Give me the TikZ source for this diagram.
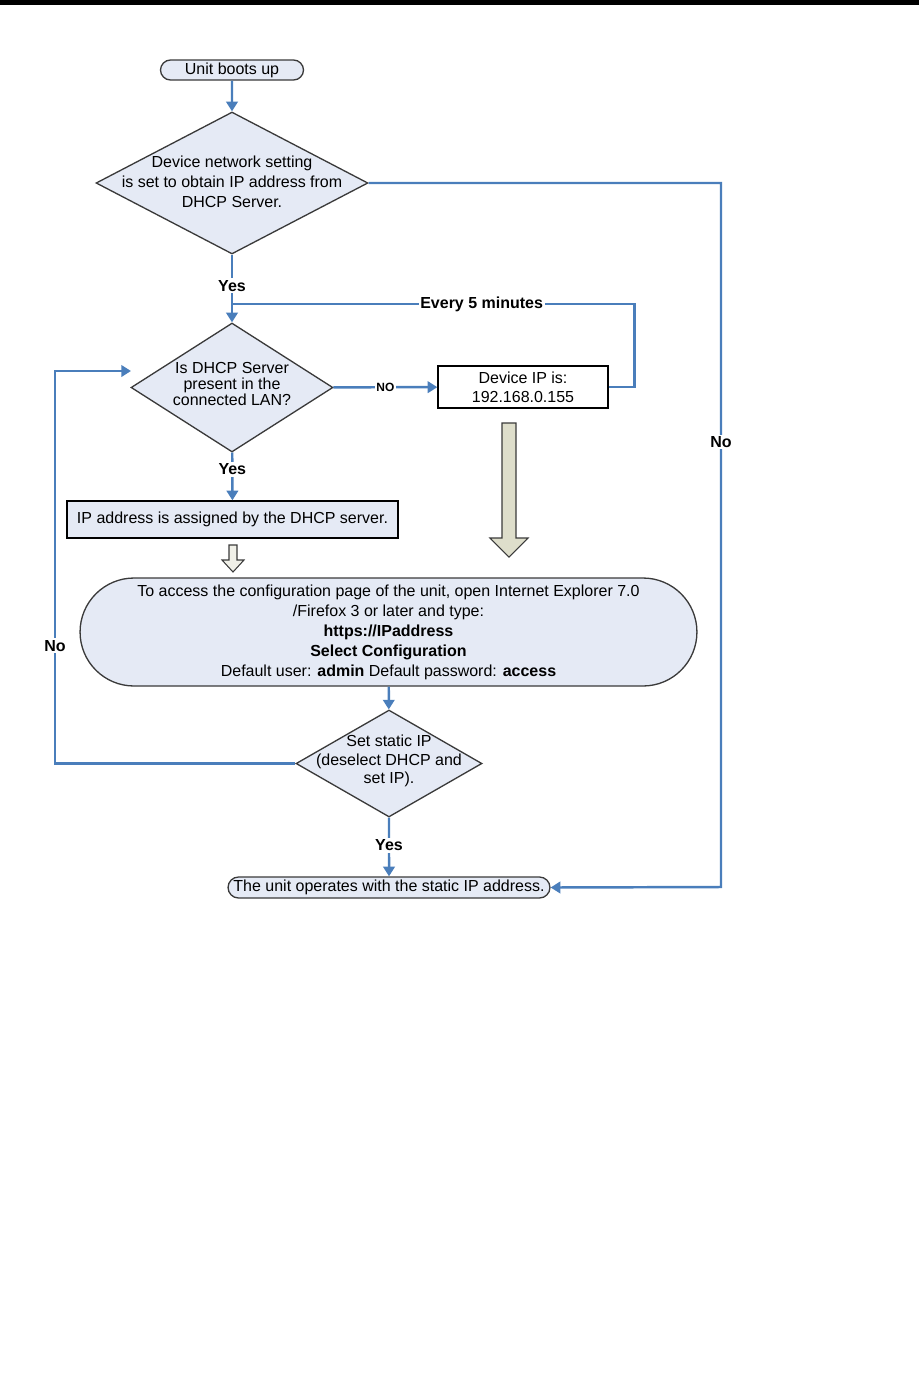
\documentclass[tikz,border=0pt]{standalone}
\usepackage{fontspec}
\setmainfont{Liberation Sans}
\usetikzlibrary{shapes.geometric,shapes.misc,arrows.meta}

\definecolor{FlowBlue}{HTML}{4A7EBB}
\definecolor{FlowFill}{HTML}{E5EAF5}
\definecolor{BlockFill}{HTML}{DEDECB}
\definecolor{EdgeGray}{HTML}{3A3A3A}

\begin{document}
\begin{tikzpicture}[
    x=0.02cm,
    y=-0.02cm,
    font=\fontsize{9.1}{11.4}\selectfont,
    terminal/.style={rounded rectangle, draw=EdgeGray, fill=FlowFill,
                     line width=0.75pt, inner sep=0pt, align=center},
    decision/.style={diamond, draw=EdgeGray, fill=FlowFill,
                     line width=0.75pt, inner sep=0pt},
    process/.style={rectangle, draw=black, line width=0.75pt,
                    inner sep=0pt, align=center},
    flow/.style={draw=FlowBlue, line width=1.4pt,
                 -{Triangle[length=5.5pt, width=6.5pt]}},
    flowline/.style={draw=FlowBlue, line width=1.4pt},
    tag/.style={font=\fontsize{9.1}{11}\selectfont\bfseries, fill=white,
                inner sep=1pt},
    blockarrow/.style={draw=EdgeGray, fill=BlockFill, line width=0.6pt,
                       line join=miter}
]
\useasboundingbox (0,0) rectangle (919,1387);
\fill[black] (0,0) rectangle (919,5);

% Start and the first test on the network setting.
\node[terminal, minimum width=2.86cm, minimum height=0.40cm]
      (boot) at (232,70) {Unit boots up};
\node[decision, minimum width=5.44cm, minimum height=2.84cm,
      label={[align=center, yshift=0.8pt]center:Device network setting\\
             is set to obtain IP address from\\DHCP Server.}]
      (netset) at (232,183) {};

% DHCP server test, with the fallback address on the right.
\node[decision, minimum width=4.04cm, minimum height=2.58cm,
      label={[align=center, yshift=2pt,
              font=\fontsize{9.1}{9.1}\selectfont]center:Is DHCP Server\\
             present in the\\connected LAN?}]
      (dhcp) at (232,387.5) {};
\node[process, minimum width=3.40cm, minimum height=0.84cm,
      font=\fontsize{9.1}{10.8}\selectfont]
      (devip) at (523,387) {Device IP is:\\192.168.0.155};
\node[process, fill=FlowFill, minimum width=6.62cm, minimum height=0.74cm]
      (assigned) at (232.5,519.5) {IP address is assigned by the DHCP server.};

% Configuration step and the final state.
\node[terminal, minimum width=12.34cm, minimum height=2.16cm]
      (access) at (388.5,632)
      {To access the configuration page of the unit, open Internet Explorer 7.0\\
       /Firefox 3 or later and type:\\
       \textbf{https://IPaddress}\\
       \textbf{Select Configuration}\\
       Default user: \textbf{admin} Default password: \textbf{access}};
\node[decision, minimum width=3.72cm, minimum height=2.14cm,
      label={[align=center, yshift=1.5pt,
              font=\fontsize{9.1}{10.8}\selectfont]center:Set static IP\\
             (deselect DHCP and\\set IP).}]
      (setip) at (389,763.5) {};
\node[terminal, minimum width=6.44cm, minimum height=0.42cm]
      (static) at (389,887.5) {The unit operates with the static IP address.};

\coordinate (merge) at (232,304);
\coordinate (leftturn) at (55,371);
\coordinate (dhcpin) at (131,371);
\coordinate (rightturn) at (721,887);

% Connectors.
\draw[flow] (boot) -- (netset);
\draw[flow] (netset) -- node[tag, pos=0.46] {Yes} (dhcp);
\draw[flowline] (devip.east) -- ++(26,0)
      |- node[tag, pos=0.69] {Every 5 minutes} (merge);
\draw[flow] (dhcp) -- node[tag, font=\fontsize{6.8}{8}\selectfont\bfseries] {NO} (devip);
\draw[flow] (dhcp) -- node[tag, pos=0.35] {Yes} (assigned);
\draw[flow] (access) -- (setip);
\draw[flow] (setip) -- node[tag, pos=0.47] {Yes} (static);
\draw[flow] (setip.west) -| node[tag, pos=0.65] {No} (leftturn) -- (dhcpin);
\draw[flow] (netset.east) -| node[tag, pos=0.684] {No} (rightturn) -- (static.east);

% Block arrows toward the configuration step.
\draw[blockarrow, fill=BlockFill!45]
      (229,545) -- (237,545) -- (237,560) -- (244,560) -- (233,572)
      -- (222,560) -- (229,560) -- cycle;
\draw[blockarrow]
      (502,423) -- (516,423) -- (516,538) -- (528,538) -- (509,557)
      -- (490,538) -- (502,538) -- cycle;
\end{tikzpicture}
\end{document}
